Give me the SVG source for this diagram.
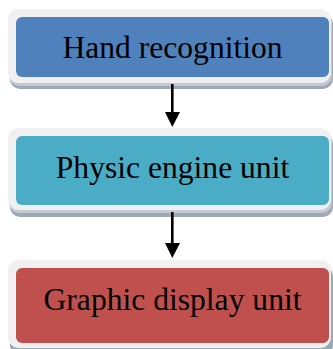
<svg xmlns="http://www.w3.org/2000/svg" width="333" height="349" viewBox="0 0 333 349">
  <defs>
    <style>
      .shadow { fill: #9ea9b6; }
      .shadow2 { fill: #c3cad3; }
      .frame { fill: #f0f0f0; }
      .label { font-family: "Liberation Serif", "Times New Roman", serif; font-size: 31.6px; fill: #000; text-anchor: middle; }
      .link { stroke: #000; stroke-width: 2.6; fill: none; }
      .head { fill: #000; }
    </style>
  </defs>

  <rect width="333" height="349" fill="#ffffff"/>

  <!-- Node: hand recognition -->
  <g id="hand-recognition">
    <rect class="shadow" x="10" y="14" width="323" height="75" rx="10"/>
    <rect class="shadow2" x="9" y="12" width="323" height="74" rx="10"/>
    <rect class="frame" x="8" y="9" width="323" height="74" rx="11"/>
    <rect x="16" y="17" width="313" height="60" rx="6" fill="#4f81bd"/>
    <text class="label" x="172.5" y="58">Hand recognition</text>
  </g>

  <!-- Node: physic engine unit -->
  <g id="physic-engine">
    <rect class="shadow" x="10" y="134" width="323" height="83" rx="10"/>
    <rect class="shadow2" x="9" y="131" width="323" height="82" rx="10"/>
    <rect class="frame" x="8" y="128" width="323" height="82" rx="11"/>
    <rect x="16" y="136" width="313" height="69" rx="6" fill="#4bacc6"/>
    <text class="label" x="172.5" y="178">Physic engine unit</text>
  </g>

  <!-- Node: graphic display unit -->
  <g id="graphic-display">
    <rect class="shadow" x="10" y="266" width="323" height="89" rx="10"/>
    <rect class="frame" x="8" y="260" width="323" height="88" rx="11"/>
    <rect x="16" y="268" width="313" height="75" rx="6" fill="#c0504d"/>
    <text class="label" x="172.5" y="310">Graphic display unit</text>
  </g>

  <!-- Connectors -->
  <g id="connectors">
    <line class="link" x1="172.3" y1="84" x2="172.3" y2="114"/>
    <path class="head" d="M165,112 L180,112 L172.3,127 Z"/>
    <line class="link" x1="172.3" y1="212" x2="172.3" y2="245"/>
    <path class="head" d="M165,243 L180,243 L172.3,258 Z"/>
  </g>
</svg>
